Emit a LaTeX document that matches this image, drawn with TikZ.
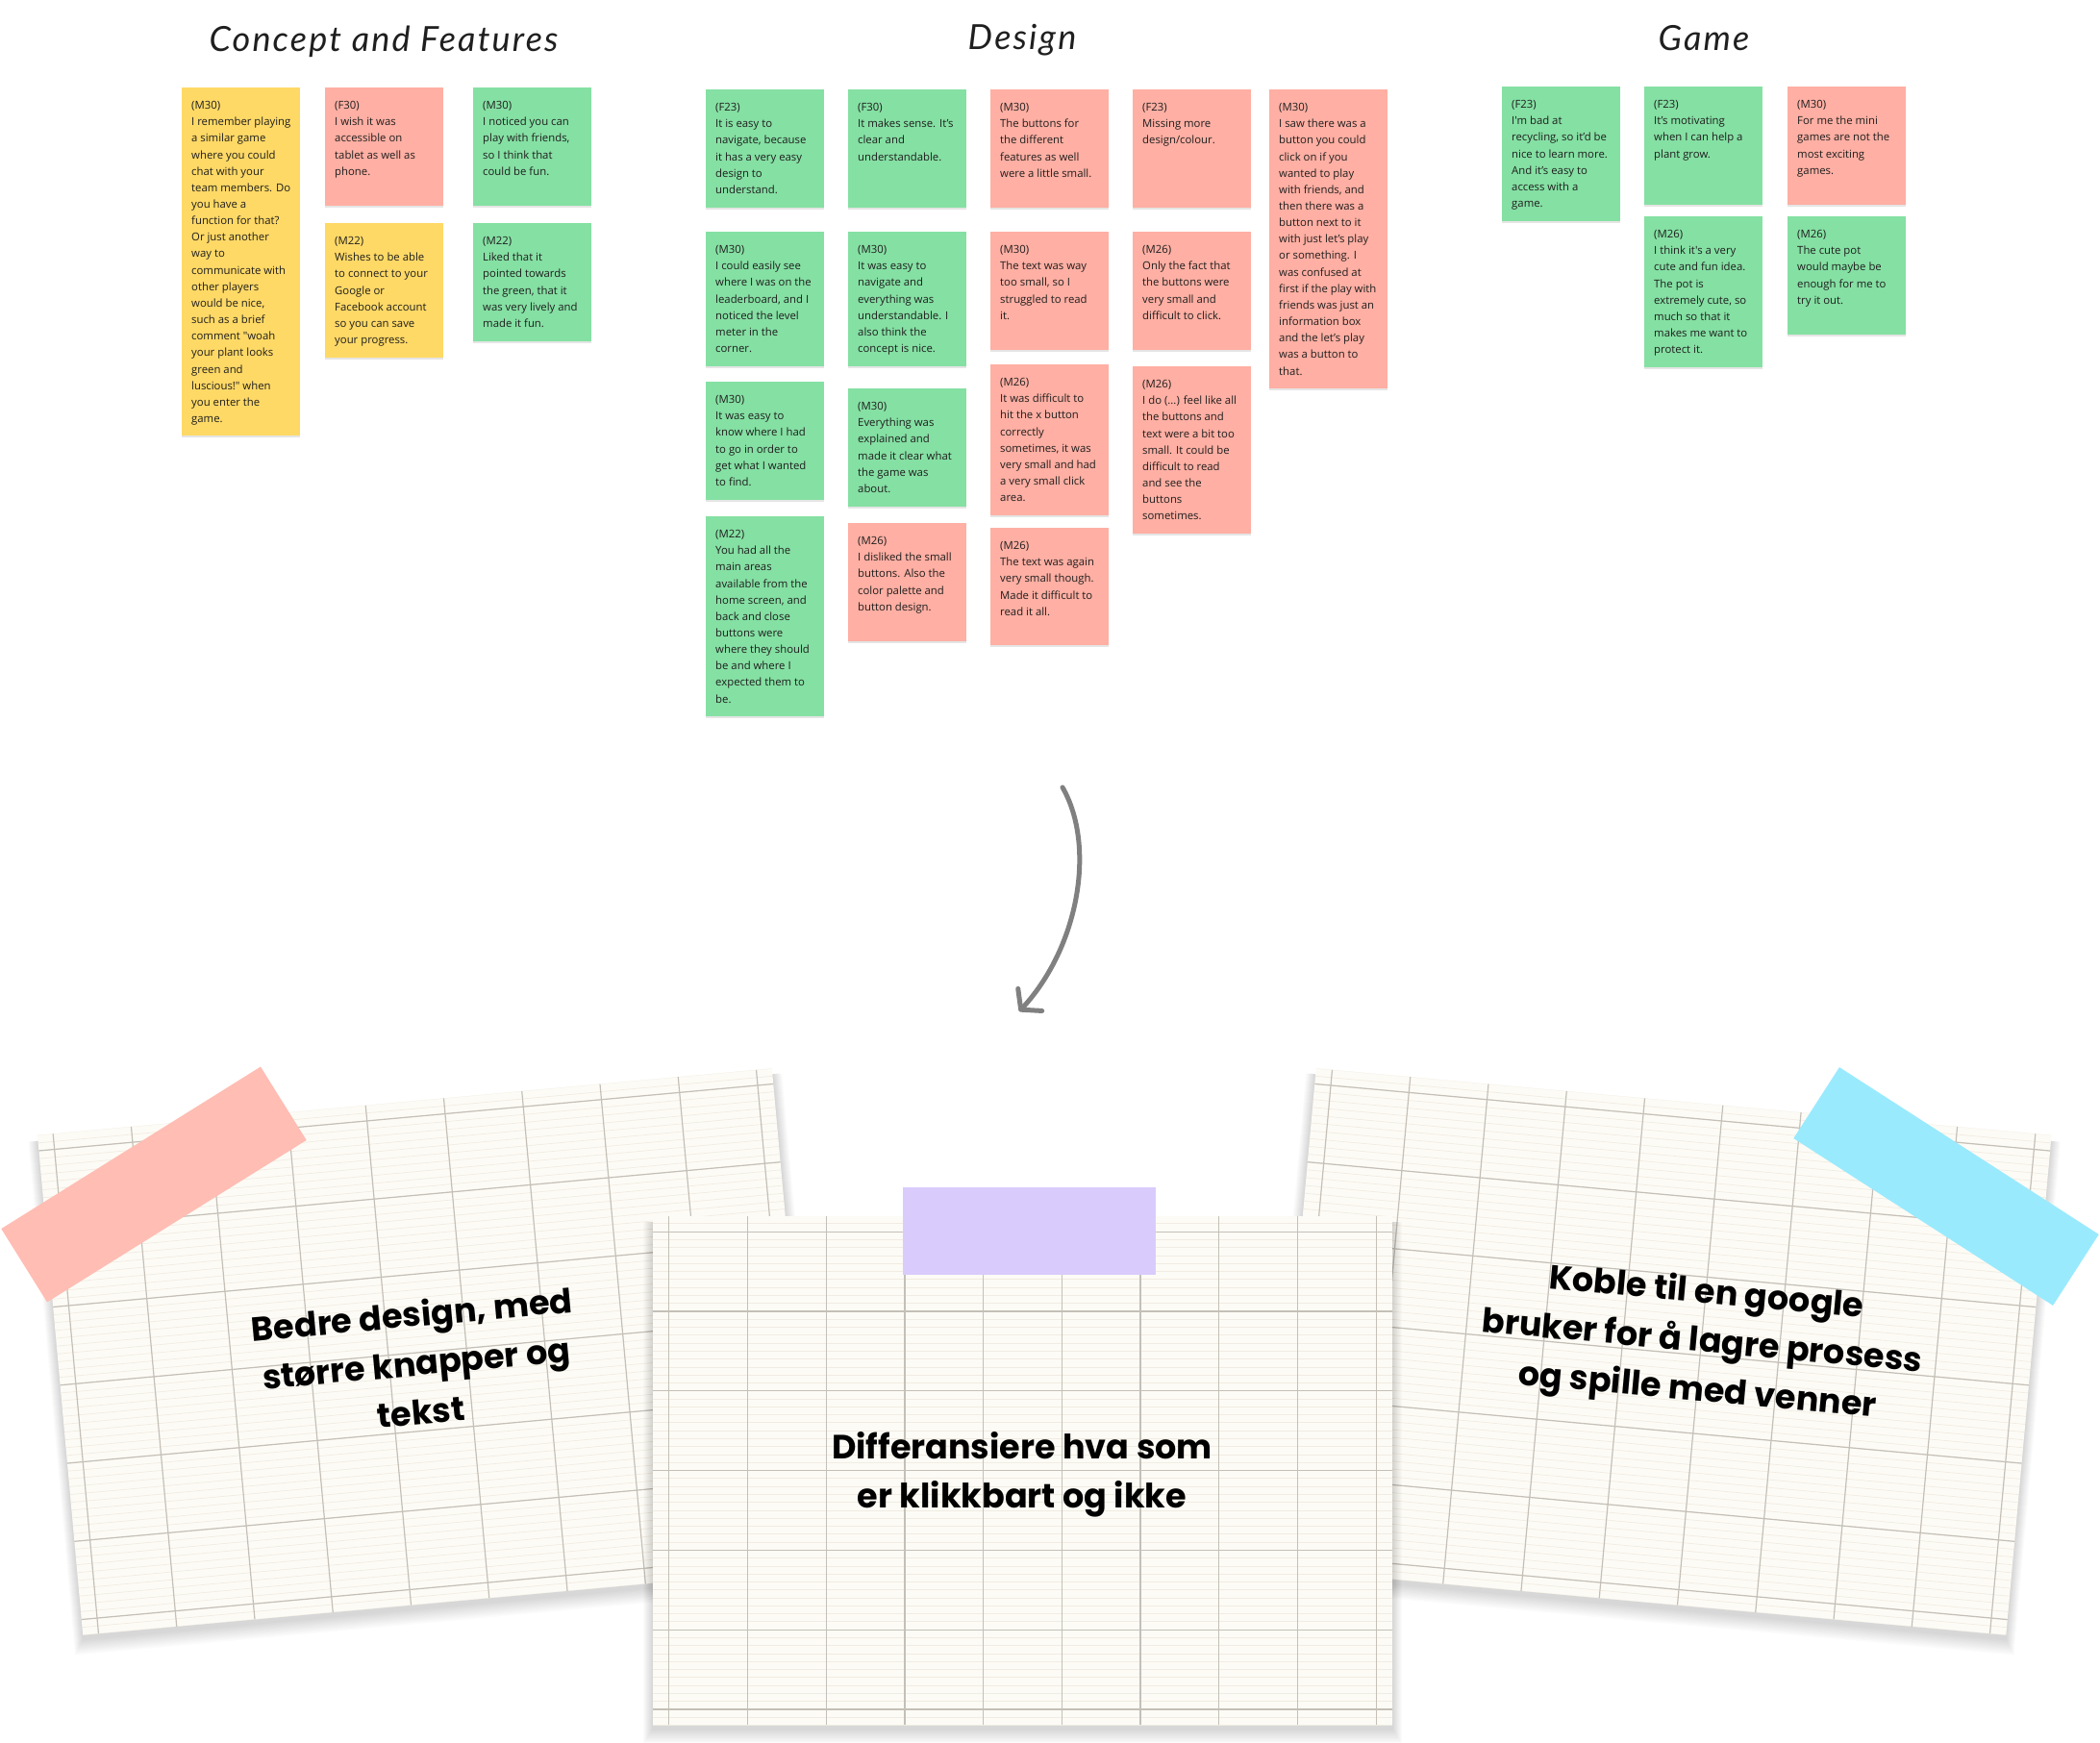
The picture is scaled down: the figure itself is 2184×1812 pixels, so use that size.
\documentclass[tikz,border=0pt]{standalone}
\usepackage{fontspec}
\usetikzlibrary{arrows.meta}
\newfontfamily\notefont{Open Sans}
\newfontfamily\cardfont{Poppins}
\newfontfamily\handfont[LetterSpace=6]{Lato}
\definecolor{stgreen}{HTML}{85E0A3}
\definecolor{stpink}{HTML}{FFAFA3}
\definecolor{styellow}{HTML}{FFD966}
\definecolor{sttext}{HTML}{1E1E1E}
\definecolor{cardfill}{HTML}{FDFBF5}
\definecolor{majorgray}{HTML}{C4C0B8}
\definecolor{minorgray}{HTML}{F0ECE3}
\definecolor{tapepink}{HTML}{FFBDB3}
\definecolor{tapeblue}{HTML}{9AEAFE}
\definecolor{tapepurple}{HTML}{D9CCFC}
\definecolor{arrowgray}{HTML}{808080}
\tikzset{
  stickybox/.style={rectangle, draw=none, inner sep=0pt, minimum width=123pt, anchor=north west},
  stickytext/.style={inner sep=0pt, text=sttext, font=\notefont\fontsize{11.35}{17.15}\selectfont},
  titletext/.style={inner sep=0pt, text=black!88, font=\handfont\itshape\fontsize{36}{40}\selectfont},
  cardbox/.style={rectangle, draw=none, inner sep=0pt, fill=cardfill},
  cardtext/.style={inner sep=0pt, align=center, text=black, font=\cardfont\bfseries\fontsize{35}{51}\selectfont},
  minorline/.style={draw=minorgray, line width=0.7pt},
  majorline/.style={draw=majorgray, line width=1.2pt},
  tapebox/.style={rectangle, draw=none, inner sep=0pt},
  arrowline/.style={draw=arrowgray, line width=5pt, line cap=round, -{Straight Barb[length=14pt, width=34pt, round]}},
}
\newcommand\sticky[6]{%
  \fill[black, opacity=0.10] (#2,#3+2) rectangle ++(123,#4);
  \node[stickybox, fill=#5, minimum height=#4pt] (#1) at (#2,#3) {};
  \node[stickytext, anchor=base west] (#1t) at (#2+10,#3+22.6) {\parbox[t]{160pt}{#6}};
}
\newcommand\gridcard[8]{%
  \begin{scope}[shift={(#2,#3)}, rotate=#4]
    \pgfmathsetmacro\hw{#5/2}\pgfmathsetmacro\hh{#6/2}%
    \pgfmathsetmacro\mx{(#5-9*#7)/2}\pgfmathsetmacro\my{(#6-6*#8)/2}%
    \foreach \i in {1,...,10}{\fill[black,opacity=0.014] (-\hw-\i, -\hh+6) rectangle (\hw+\i, \hh+4+1.6*\i);}
    \node[cardbox, minimum width=#5pt, minimum height=#6pt, transform shape] (#1) at (0,0) {};
    \begin{scope}
      \clip (-\hw,-\hh) rectangle (\hw,\hh);
      \foreach \k in {-2,...,62}{\draw[minorline] (-\hw, -\hh+\my+\k*#8/10) -- (\hw, -\hh+\my+\k*#8/10);}
    \end{scope}
    \foreach \i in {0,...,9}{\draw[majorline] (-\hw+\mx+\i*#7, -\hh) -- (-\hw+\mx+\i*#7, \hh);}
    \foreach \j in {0,...,6}{\draw[majorline] (-\hw, -\hh+\my+\j*#8) -- (\hw, -\hh+\my+\j*#8);}
  \end{scope}%
}
\begin{document}
\begin{tikzpicture}[x=1pt, y=-1pt]
\fill[white] (0,0) rectangle (2184,1812);
\useasboundingbox (0,0) rectangle (2184,1812);

% titles
\node[titletext] (t1) at (399,43) {Concept and Features};
\node[titletext] (t2) at (1063,42) {Design};
\node[titletext] (t3) at (1772,40) {Game};

% Concept and Features
\sticky{c1}{189}{91}{362}{styellow}{(M30)\\I remember playing\\a similar game\\where you could\\chat with your\\team members. Do\\you have a\\function for that?\\Or just another\\way to\\communicate with\\other players\\would be nice,\\such as a brief\\comment "woah\\your plant looks\\green and\\luscious!" when\\you enter the\\game.}
\sticky{c2}{338}{91}{123}{stpink}{(F30)\\I wish it was\\accessible on\\tablet as well as\\phone.}
\sticky{c3}{492}{91}{123}{stgreen}{(M30)\\I noticed you can\\play with friends,\\so I think that\\could be fun.}
\sticky{c4}{338}{232}{140}{styellow}{(M22)\\Wishes to be able\\to connect to your\\Google or\\Facebook account\\so you can save\\your progress.}
\sticky{c5}{492}{232}{123}{stgreen}{(M22)\\Liked that it\\pointed towards\\the green, that it\\was very lively and\\made it fun.}

% Design
\sticky{d1}{734}{93}{123}{stgreen}{(F23)\\It is easy to\\navigate, because\\it has a very easy\\design to\\understand.}
\sticky{d2}{882}{93}{123}{stgreen}{(F30)\\It makes sense. It’s\\clear and\\understandable.}
\sticky{d3}{734}{241}{140}{stgreen}{(M30)\\I could easily see\\where I was on the\\leaderboard, and I\\noticed the level\\meter in the\\corner.}
\sticky{d4}{882}{241}{140}{stgreen}{(M30)\\It was easy to\\navigate and\\everything was\\understandable. I\\also think the\\concept is nice.}
\sticky{d5}{734}{397}{123}{stgreen}{(M30)\\It was easy to\\know where I had\\to go in order to\\get what I wanted\\to find.}
\sticky{d6}{882}{404}{123}{stgreen}{(M30)\\Everything was\\explained and\\made it clear what\\the game was\\about.}
\sticky{d7}{734}{537}{208}{stgreen}{(M22)\\You had all the\\main areas\\available from the\\home screen, and\\back and close\\buttons were\\where they should\\be and where I\\expected them to\\be.}
\sticky{d8}{882}{544}{123}{stpink}{(M26)\\I disliked the small\\buttons. Also the\\color palette and\\button design.}
\sticky{d9}{1030}{93}{123}{stpink}{(M30)\\The buttons for\\the different\\features as well\\were a little small.}
\sticky{d10}{1178}{93}{123}{stpink}{(F23)\\Missing more\\design/colour.}
\sticky{d11}{1320}{93}{311}{stpink}{(M30)\\I saw there was a\\button you could\\click on if you\\wanted to play\\with friends, and\\then there was a\\button next to it\\with just let’s play\\or something. I\\was confused at\\first if the play with\\friends was just an\\information box\\and the let’s play\\was a button to\\that.}
\sticky{d12}{1030}{241}{123}{stpink}{(M30)\\The text was way\\too small, so I\\struggled to read\\it.}
\sticky{d13}{1178}{241}{123}{stpink}{(M26)\\Only the fact that\\the buttons were\\very small and\\difficult to click.}
\sticky{d14}{1030}{379}{157}{stpink}{(M26)\\It was difficult to\\hit the x button\\correctly\\sometimes, it was\\very small and had\\a very small click\\area.}
\sticky{d15}{1178}{381}{174}{stpink}{(M26)\\I do (...) feel like all\\the buttons and\\text were a bit too\\small. It could be\\difficult to read\\and see the\\buttons\\sometimes.}
\sticky{d16}{1030}{549}{122}{stpink}{(M26)\\The text was again\\very small though.\\Made it difficult to\\read it all.}

% Game
\sticky{g1}{1562}{90}{140}{stgreen}{(F23)\\I'm bad at\\recycling, so it’d be\\nice to learn more.\\And it’s easy to\\access with a\\game.}
\sticky{g2}{1710}{90}{123}{stgreen}{(F23)\\It’s motivating\\when I can help a\\plant grow.}
\sticky{g3}{1859}{90}{123}{stpink}{(M30)\\For me the mini\\games are not the\\most exciting\\games.}
\sticky{g4}{1710}{225}{157}{stgreen}{(M26)\\I think it's a very\\cute and fun idea.\\The pot is\\extremely cute, so\\much so that it\\makes me want to\\protect it.}
\sticky{g5}{1859}{225}{123}{stgreen}{(M26)\\The cute pot\\would maybe be\\enough for me to\\try it out.}

% arrow
\coordinate (arrowstart) at (1105,819);
\coordinate (arrowend) at (1060,1052);
\draw[arrowline] (arrowstart) .. controls (1140,880) and (1122,985) .. (arrowend);

% bottom cards
\gridcard{leftcard}{444.5}{1406}{5.2}{767}{522}{81.6}{81.6}
\node[cardtext, rotate=5.2] (lefttext) at (433,1417) {Bedre design, med\\større knapper og\\tekst};
\node[tapebox, fill=tapepink, minimum width=318pt, minimum height=90pt, rotate=32] (pinktape) at (160,1232) {};

\gridcard{rightcard}{1727.5}{1406}{-5.2}{768}{522}{81.6}{81.6}
\node[cardtext, rotate=-5.2] (righttext) at (1770,1397) {Koble til en google\\bruker for å lagre prosess\\og spille med venner};
\node[tapebox, fill=tapeblue, minimum width=321pt, minimum height=88pt, rotate=-32.8] (bluetape) at (2024,1234) {};

\gridcard{centercard}{1063.5}{1529.5}{0}{769}{529}{81.7}{82.8}
\node[tapebox, fill=tapepurple, minimum width=263pt, minimum height=91pt, anchor=north west] (purpletape) at (939,1235) {};
\node[cardtext] (centertext) at (1063,1534) {Differansiere hva som\\er klikkbart og ikke};
\end{tikzpicture}
\end{document}
